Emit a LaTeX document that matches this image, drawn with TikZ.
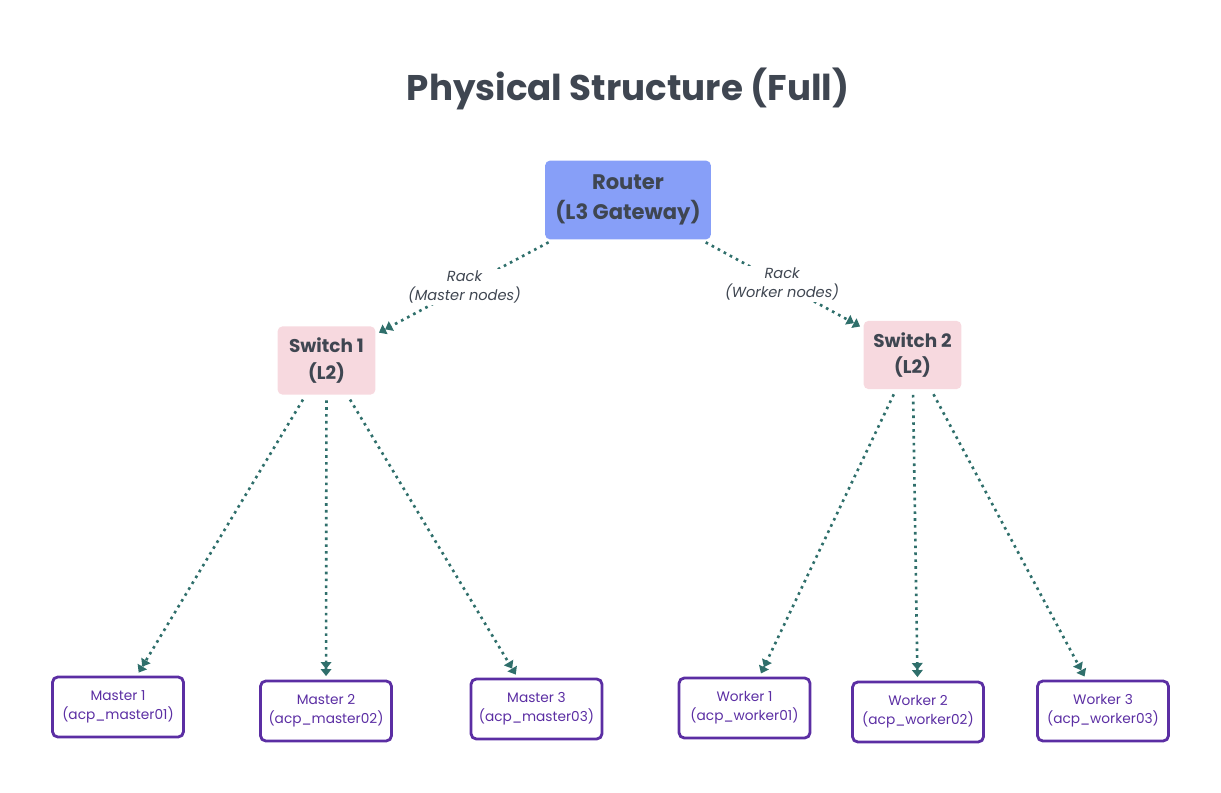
\documentclass[tikz,border=0pt]{standalone}
\usepackage{fontspec}
\setmainfont{Poppins}
\usetikzlibrary{arrows.meta}
\definecolor{titlegray}{HTML}{3F4651}
\definecolor{routerblue}{HTML}{879FF8}
\definecolor{switchpink}{HTML}{F7D9DF}
\definecolor{hostpurple}{HTML}{5B2EA3}
\definecolor{linkteal}{HTML}{2F6F6B}
\begin{document}
\begin{tikzpicture}[x=0.02cm, y=-0.02cm,
        title/.style = {text=titlegray, font=\fontsize{20.3}{24}\selectfont\bfseries},
        router/.style = {fill=routerblue, rounded corners=3pt, text=titlegray, align=center,
            minimum width=3.32cm, minimum height=1.58cm, font=\fontsize{12}{17}\selectfont\bfseries},
        switch/.style = {fill=switchpink, rounded corners=3pt, text=titlegray, align=center,
            minimum width=1.96cm, minimum height=1.37cm, font=\fontsize{10.5}{15}\selectfont\bfseries},
        host/.style = {draw=hostpurple, line width=1.6pt, rounded corners=3pt, text=hostpurple, align=center,
            minimum width=2.62cm, minimum height=1.2cm, font=\fontsize{7.8}{11}\selectfont},
        rack/.style = {fill=white, text=titlegray, align=center, inner sep=1pt, font=\fontsize{8.3}{11}\selectfont\itshape},
        link/.style = {draw=linkteal, line width=1.5pt, dash pattern=on 1.5pt off 2.4pt,
            -{Triangle[length=4pt,width=6pt]Triangle[length=4pt,width=6pt]}, shorten >=2pt, shorten <=3pt}]
    \useasboundingbox (0,0) rectangle (1221,793);

    \node[title] at (628,89) (title) {Physical Structure (Full)};

    \node[router] at (628,200) (r) {Router\\(L3 Gateway)};

    \node[switch] at (326.5,360.5) (s1) {Switch 1\\(L2)};
    \node[switch] at (912.5,355) (s2) {Switch 2\\(L2)};

    \node[host] at (118,707) (m1) {Master 1\\(acp\_master01)};
    \node[host] at (326,711) (m2) {Master 2\\(acp\_master02)};
    \node[host] at (536.5,709) (m3) {Master 3\\(acp\_master03)};
    \node[host] at (744.5,708) (w1) {Worker 1\\(acp\_worker01)};
    \node[host] at (918,712) (w2) {Worker 2\\(acp\_worker02)};
    \node[host] at (1103,711) (w3) {Worker 3\\(acp\_worker03)};

    \draw[link] (r) -- node[rack] {Rack\\(Master nodes)} (s1);
    \draw[link] (r) -- node[rack] {Rack\\(Worker nodes)} (s2);

    \draw[link] (s1) -- (m1);
    \draw[link] (s1) -- (m2);
    \draw[link] (s1) -- (m3);

    \draw[link] (s2) -- (w1);
    \draw[link] (s2) -- (w2);
    \draw[link] (s2) -- (w3);
\end{tikzpicture}
\end{document}
